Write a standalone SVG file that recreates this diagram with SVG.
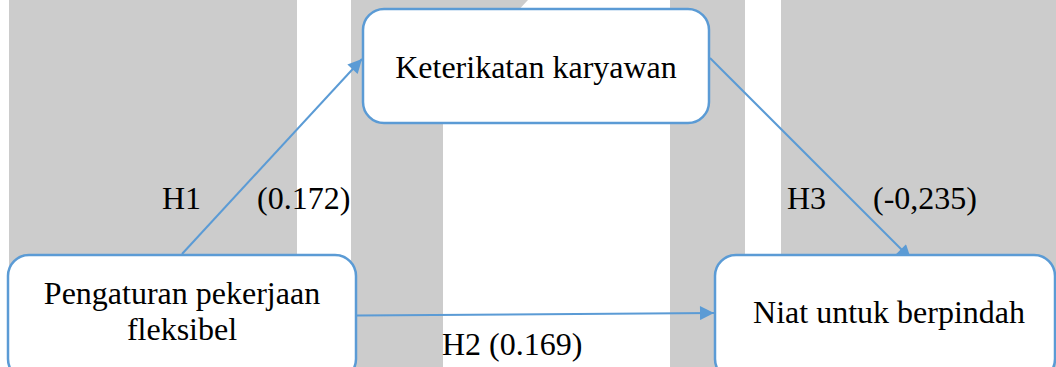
<svg xmlns="http://www.w3.org/2000/svg" width="1056" height="367" viewBox="0 0 1056 367">
  <defs>
    <marker id="arrow" viewBox="0 0 10 10" refX="10" refY="5" markerWidth="8" markerHeight="7" markerUnits="strokeWidth" orient="auto">
      <path d="M0,0 L10,5 L0,10 z" fill="#5B9BD5"/>
    </marker>
    <style>
      .band { fill: #cccccc; }
      .node rect { fill: #ffffff; stroke: #5B9BD5; stroke-width: 2.5; }
      .label { font-family: "Liberation Serif", "Times New Roman", serif; font-size: 32px; fill: #000000; }
      .mid { text-anchor: middle; }
      .edge { stroke: #5B9BD5; stroke-width: 2; fill: none; marker-end: url(#arrow); }
    </style>
  </defs>

  <!-- background bands -->
  <rect width="1056" height="367" fill="#ffffff"/>
  <g id="bands">
    <rect class="band" x="9" y="0" width="288" height="367"/>
    <rect class="band" x="351" y="0" width="92" height="367"/>
    <polygon class="band" points="443,0 528,0 443,90"/>
    <rect class="band" x="670" y="0" width="75" height="367"/>
    <rect class="band" x="781" y="0" width="275" height="367"/>
  </g>

  <!-- connectors -->
  <g id="connectors">
    <line class="edge" x1="182" y1="254" x2="362" y2="59"/>
    <line class="edge" x1="710" y1="58" x2="911" y2="259"/>
    <line class="edge" x1="357" y1="315.5" x2="714" y2="313"/>
  </g>

  <!-- connector labels -->
  <g id="edge-labels">
    <text class="label" x="162" y="209">H1</text>
    <text class="label" x="257" y="209">(0.172)</text>
    <text class="label" x="787" y="209">H3</text>
    <text class="label" x="873" y="209">(-0,235)</text>
    <text class="label" x="442" y="355">H2 (0.169)</text>
  </g>

  <!-- nodes -->
  <g id="node-keterikatan" class="node">
    <rect x="363" y="9" width="346" height="114" rx="21" ry="21"/>
    <text class="label mid" x="536" y="78">Keterikatan karyawan</text>
  </g>

  <g id="node-pengaturan" class="node">
    <rect x="8" y="255" width="348" height="125" rx="21" ry="21"/>
    <text class="label mid" x="182" y="304">Pengaturan pekerjaan</text>
    <text class="label mid" x="182" y="340">fleksibel</text>
  </g>

  <g id="node-niat" class="node">
    <rect x="715" y="255" width="340" height="125" rx="21" ry="21"/>
    <text class="label mid" x="889" y="323">Niat untuk berpindah</text>
  </g>
</svg>
